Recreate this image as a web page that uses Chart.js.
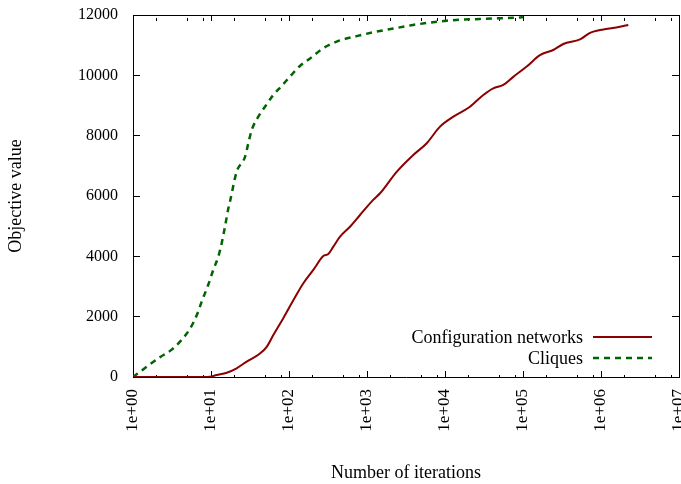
<!DOCTYPE html>
<html>
<head>
<meta charset="utf-8">
<script src="https://cdn.jsdelivr.net/npm/chart.js@4.4.1/dist/chart.umd.min.js"></script>
<style>
  html, body { margin: 0; padding: 0; background: #fff; }
</style>
</head>
<body>
<canvas id="myChart" width="681" height="484"></canvas>
<script>
// values (x = iterations, y = objective value)
const configIters = [1, 8, 9.7, 11.8, 15.9, 21.3, 28.7, 42.5, 51.8, 63, 84.5, 114, 152, 205, 275, 319, 370, 451, 605, 813,
    1200, 1470, 2400, 3920, 5830, 8630, 12800, 20900, 31000, 41600, 55900, 75100, 111500, 165000, 244000, 329000,
    538000, 723000, 971000, 1750000, 2240000];
const configValues = [0, 0, 10, 66, 143, 290, 510, 780, 1000, 1390, 1950, 2550, 3100, 3550, 4010, 4080, 4320, 4650, 4980, 5370,
    5870, 6090, 6800, 7360, 7750, 8300, 8630, 8960, 9350, 9570, 9680, 9950, 10290, 10670, 10840, 11040,
    11190, 11410, 11500, 11610, 11670];

const cliqueIters = [1, 1.5, 2.2, 3.1, 4.2, 5.4, 6.6, 7.6, 9.2, 10.7, 12.4, 13.7, 15.1, 16.7, 17.5, 21.3, 27.3, 30.1, 33.3,
    40.4, 49.2, 63, 80.6, 103, 138, 186, 275, 409, 738, 1330, 3230, 3890, 10500, 28000, 91000, 100000];
const cliqueValues = [0, 340, 650, 900, 1230, 1610, 2060, 2500, 3050, 3550, 3990, 4430, 4980, 5590, 5810, 6800, 7300, 7750, 8190,
    8630, 8960, 9350, 9650, 9960, 10310, 10560, 10900, 11120, 11300, 11450, 11630, 11670, 11810, 11870, 11920, 11930];

const seriesNames = ['Configuration networks', 'Cliques'];
const yTicks = [0, 2000, 4000, 6000, 8000, 10000, 12000];
const minorMarks = [2, 5, 8];   // minor tick positions inside each decade

const serif = "'Liberation Serif', serif";

function toPoints(xs, ys) {
    return xs.map((x, i) => ({ x: x, y: ys[i] }));
}

function isDecade(v) {
    const e = Math.log10(v);
    return Math.abs(e - Math.round(e)) < 1e-9;
}

function decadeLabel(v) {
    if (!isDecade(v)) return '';
    const e = Math.round(Math.log10(v));
    return '1e+' + (e < 10 ? '0' : '') + e;
}

function isMinorMark(v) {
    const m = v / Math.pow(10, Math.floor(Math.log10(v) + 1e-9));
    return minorMarks.some(k => Math.abs(m - k) < 1e-6);
}

// short minor ticks, long major ticks (dash cuts the minor ones)
const tickDash = (ctx) => (ctx.tick && isDecade(ctx.tick.value)) ? [] : [3, 40];
const tickColour = (ctx) => {
    if (!ctx.tick) return '#000';
    const v = ctx.tick.value;
    return (isDecade(v) || isMinorMark(v)) ? '#000' : 'rgba(0,0,0,0)';
};

const xGrid = {
    drawOnChartArea: false,
    tickLength: -6,
    color: '#000',
    tickColor: tickColour,
    tickBorderDash: tickDash
};
const yGrid = {
    drawOnChartArea: false,
    tickLength: -7,
    color: '#000',
    tickColor: '#000'
};

// fix the plot box where the reference has it
const fitTo = (w, h) => (axis) => {
    if (w !== null) axis.width = w;
    if (h !== null) axis.height = h;
    axis.paddingLeft = 0;
    axis.paddingRight = 0;
    axis.paddingTop = 0;
    axis.paddingBottom = 0;
};

// legend drawn inside the plot, gnuplot style (text then sample line)
const insideLegend = {
    id: 'insideLegend',
    afterDatasetsDraw(chart) {
        const ctx = chart.ctx;
        const area = chart.chartArea;
        ctx.save();
        ctx.font = '18px ' + serif;
        ctx.textAlign = 'right';
        ctx.textBaseline = 'middle';
        chart.data.datasets.forEach((ds, i) => {
            const y = area.bottom - 40 + i * 21;
            ctx.fillStyle = '#000';
            ctx.fillText(ds.label, area.right - 96, y + 1);
            ctx.strokeStyle = ds.borderColor;
            ctx.lineWidth = ds.borderWidth;
            ctx.setLineDash(ds.borderDash || []);
            ctx.beginPath();
            ctx.moveTo(area.right - 86, y);
            ctx.lineTo(area.right - 27, y);
            ctx.stroke();
        });
        ctx.restore();
    }
};

const data = {
    datasets: [
        {
            label: seriesNames[0],
            data: toPoints(configIters, configValues),
            borderColor: '#8b0000',
            backgroundColor: '#8b0000',
            borderWidth: 2,
            pointRadius: 0,
            cubicInterpolationMode: 'monotone',
            fill: false
        },
        {
            label: seriesNames[1],
            data: toPoints(cliqueIters, cliqueValues),
            borderColor: '#006400',
            backgroundColor: '#006400',
            borderWidth: 2.5,
            borderDash: [6, 5],
            pointRadius: 0,
            cubicInterpolationMode: 'monotone',
            fill: false
        }
    ]
};

const options = {
    responsive: false,
    devicePixelRatio: 1,
    animation: false,
    layout: { padding: 0 },
    plugins: {
        legend: { display: false },
        tooltip: { enabled: false }
    },
    scales: {
        x: {
            type: 'logarithmic',
            position: 'bottom',
            min: 1,
            max: 1e7,
            afterFit: fitTo(null, 107),
            border: { color: '#000', width: 1 },
            grid: xGrid,
            ticks: {
                autoSkip: false,
                minRotation: 90,
                maxRotation: 90,
                padding: 18,
                color: '#000',
                font: { family: serif, size: 17 },
                callback: (v) => decadeLabel(v)
            },
            title: {
                display: true,
                text: 'Number of iterations',
                color: '#000',
                font: { family: serif, size: 18 },
                padding: { top: 0, bottom: 0 }
            }
        },
        x2: {
            type: 'logarithmic',
            position: 'top',
            min: 1,
            max: 1e7,
            afterFit: fitTo(null, 15),
            border: { color: '#000', width: 1 },
            grid: xGrid,
            ticks: { display: false, autoSkip: false }
        },
        y: {
            type: 'linear',
            position: 'left',
            min: 0,
            max: 12000,
            afterBuildTicks: (axis) => { axis.ticks = yTicks.map(v => ({ value: v })); },
            afterFit: fitTo(133, null),
            border: { color: '#000', width: 1 },
            grid: yGrid,
            ticks: {
                padding: 22,
                color: '#000',
                font: { family: serif, size: 16 },
                callback: (v) => String(v)
            },
            title: {
                display: true,
                text: 'Objective value',
                color: '#000',
                font: { family: serif, size: 18 },
                padding: { top: 5, bottom: 0 }
            }
        },
        y2: {
            type: 'linear',
            position: 'right',
            min: 0,
            max: 12000,
            afterBuildTicks: (axis) => { axis.ticks = yTicks.map(v => ({ value: v })); },
            afterFit: fitTo(2, null),
            border: { color: '#000', width: 1 },
            grid: yGrid,
            ticks: { display: false }
        }
    }
};

const canvas = document.getElementById('myChart');
const myChart = new Chart(canvas.getContext('2d'), {
    type: 'line',
    data: data,
    options: options,
    plugins: [insideLegend]
});
</script>
</body>
</html>
